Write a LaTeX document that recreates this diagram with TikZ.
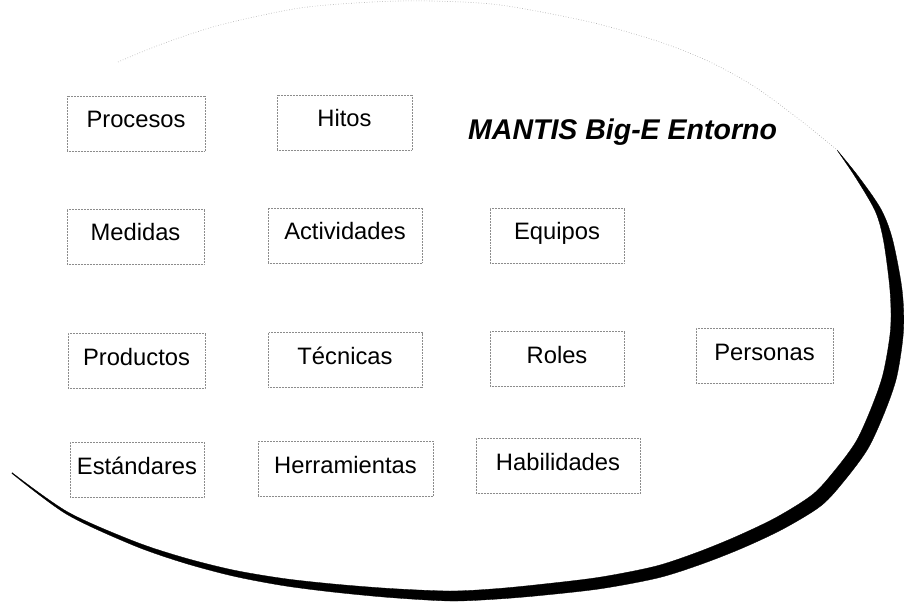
\documentclass[tikz,border=0pt]{standalone}
\usepackage{fontspec}
\setmainfont{Liberation Sans}
\begin{document}
\begin{tikzpicture}[x=1pt,y=-1pt]
\tikzset{
  lbl/.style={draw=black!45, densely dotted, line width=0.5pt, inner sep=0pt,
    minimum height=55pt, text height=17pt, text depth=8pt,
    font=\fontsize{23.75}{28}\selectfont},
  ttl/.style={font=\fontsize{28.5}{32}\selectfont\bfseries\itshape, inner sep=0pt, anchor=base west},
  brush/.style={fill=black, draw=black, line width=0.3pt, line join=round},
  faint/.style={black!35, dotted, line width=0.6pt}
}
\useasboundingbox[fill=white] (0,0) rectangle (904,609);

% faint upper part of the ellipse
\draw[faint] plot[smooth] coordinates {(118,62) (162,44) (220,25) (300,8) (373,2) (430,1) (500,5) (590,22) (660,42) (710,62) (755,87) (800,120) (837,150)};

% thick brush stroke (right and bottom), outer edge then inner edge
\path[brush] plot[smooth, tension=0.5] coordinates {
  (837,150) (858.2,176.2) (880.7,208.7) (892.4,239.0) (902.0,289.4)
  (903.5,330.5) (896.8,376.6) (884.5,412.6) (868.0,448.5) (845.4,479.4)
  (821.4,505.5) (783.2,528.9) (742.6,548.0) (702.1,563.9) (658.5,577.8)
  (600.9,588.7) (540.6,595.5) (495.3,599.2) (450,601) (389.7,597.5)
  (332.6,592.0) (282.5,585.5) (232.4,575.9) (182.3,562.4) (132.25,544.85)
  (66.4,514.1) (11.8,473.3)}
  -- plot[smooth, tension=0.5] coordinates {
  (12.2,472.7) (67.6,511.9) (133.75,541.15) (183.7,557.6) (233.6,570.1)
  (283.5,578.5) (333.4,584.0) (390.3,588.5) (450,591) (494.7,588.8)
  (539.4,584.5) (599.1,577.3) (655.5,566.2) (697.9,552.1) (737.4,536.0)
  (776.8,517.1) (812.6,494.5) (834.6,470.6) (856.0,441.5) (871.5,407.4)
  (883.2,373.4) (890.5,329.5) (890.0,290.6) (883.6,241.0) (875.3,211.3)
  (855.8,177.8) (837,150)} -- cycle;

% title
\node[ttl] (titulo) at (468,140) {MANTIS Big-E Entorno};

% boxes
\node[lbl, minimum width=138pt] (procesos) at (136,123.5) {Procesos};
\node[lbl, minimum width=135pt] (hitos) at (344.5,122.5) {Hitos};
\node[lbl, minimum width=137pt] (medidas) at (135.5,236.5) {Medidas};
\node[lbl, minimum width=154pt] (actividades) at (345,235.5) {Actividades};
\node[lbl, minimum width=134pt] (equipos) at (557,235.5) {Equipos};
\node[lbl, minimum width=137pt] (productos) at (136.5,360.5) {Productos};
\node[lbl, minimum width=154pt] (tecnicas) at (345,360) {Técnicas};
\node[lbl, minimum width=134pt] (roles) at (557,358.5) {Roles};
\node[lbl, minimum width=137pt] (personas) at (764.5,355.5) {Personas};
\node[lbl, minimum width=134pt] (estandares) at (137,469.5) {Estándares};
\node[lbl, minimum width=175pt] (herramientas) at (345.5,468.5) {Herramientas};
\node[lbl, minimum width=164pt] (habilidades) at (558,465.5) {Habilidades};
\end{tikzpicture}
\end{document}
